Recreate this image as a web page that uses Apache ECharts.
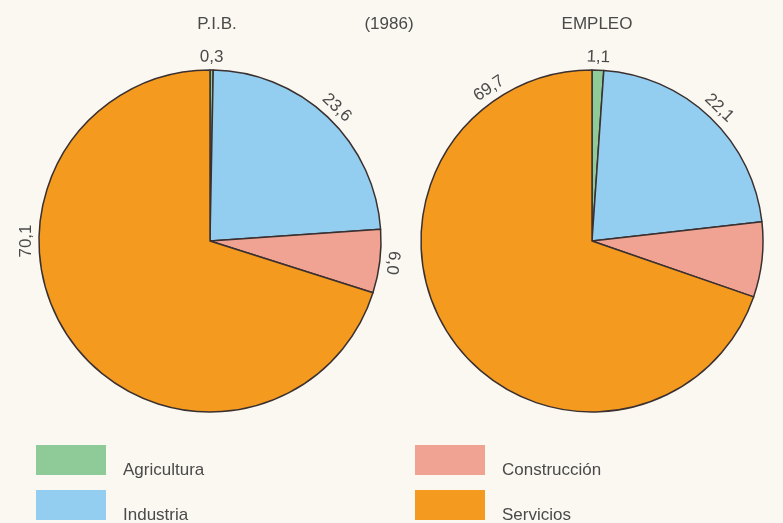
<!DOCTYPE html>
<html>
<head>
<meta charset="utf-8">
<script src="https://cdn.jsdelivr.net/npm/echarts@6/dist/echarts.min.js"></script>
<style>
html,body{margin:0;padding:0;background:#fbf8f1;}
#c{width:783px;height:523px;}
</style>
</head>
<body>
<div id="c"></div>
<script>
// ---- data ----
const categories = ['Agricultura', 'Industria', 'Construcción', 'Servicios'];
const pibValues = [0.3, 23.6, 6.0, 70.1];
const empleoValues = [1.1, 22.1, 7.1, 69.7];
const pieTitles = ['P.I.B.', 'EMPLEO'];
const yearLabel = '(1986)';

// ---- style ----
const colors = ['#8fcb99', '#93cdef', '#f0a392', '#f49a1f'];
const textColor = '#4a4a4a';
const font = 'Liberation Sans, Arial, sans-serif';
// label angle overrides (degrees clockwise from top) for the Servicios labels
const labelAngleOverride = [{3: 270}, {3: 326}];
const centers = [[210, 241], [592, 241]];
const R = 171;
const legendSlots = [[36, 440], [36, 485], [415, 440], [415, 485]];

function fmt(v) { return v.toFixed(1).replace('.', ','); }

function makeSeries(idx, values) {
  const total = values.reduce((a, b) => a + b, 0);
  let cum = 0;
  const mids = values.map(v => { const m = (cum + v / 2) / total * 360; cum += v; return m; });
  return {
    type: 'pie',
    name: pieTitles[idx],
    center: centers[idx],
    radius: [0, R],
    startAngle: 90,
    clockwise: true,
    animation: false,
    silent: true,
    itemStyle: { borderColor: '#3b3030', borderWidth: 1.5 },
    label: {
      show: true, position: 'outside', color: textColor, fontSize: 17, fontFamily: font,
      formatter: p => fmt(p.value)
    },
    labelLine: { show: false, length: 0, length2: 0 },
    labelLayout: function (p) {
      const i = p.dataIndex;
      const ov = labelAngleOverride[idx][i];
      const ang = ov !== undefined ? ov : mids[i];
      const dist = R + 13;
      const rad = ang * Math.PI / 180;
      return {
        x: centers[idx][0] + dist * Math.sin(rad),
        y: centers[idx][1] - dist * Math.cos(rad),
        rotate: -ang,
        align: 'center',
        verticalAlign: 'middle'
      };
    },
    data: categories.map((c, i) => ({ name: c, value: values[i] }))
  };
}

const titleStyle = { fontSize: 17, fontWeight: 'normal', color: textColor, fontFamily: font };

const chart = echarts.init(document.getElementById('c'));
chart.setOption({
  backgroundColor: '#fbf8f1',
  color: colors,
  title: [
    { text: pieTitles[0], left: 212, top: 11, textAlign: 'center', textStyle: titleStyle },
    { text: yearLabel, left: 384, top: 11, textAlign: 'center', textStyle: titleStyle },
    { text: pieTitles[1], left: 592, top: 11, textAlign: 'center', textStyle: titleStyle }
  ],
  legend: categories.map((c, i) => ({
    data: [c], left: legendSlots[i][0], top: legendSlots[i][1], padding: 0,
    itemWidth: 70, itemHeight: 30, icon: 'rect', selectedMode: false,
    itemStyle: { borderWidth: 0 },
    formatter: n => '\n' + n,
    textStyle: { fontSize: 17, lineHeight: 20, color: textColor, fontFamily: font, padding: [0, 0, 0, 12] }
  })),
  series: [makeSeries(0, pibValues), makeSeries(1, empleoValues)]
});
</script>
</body>
</html>
